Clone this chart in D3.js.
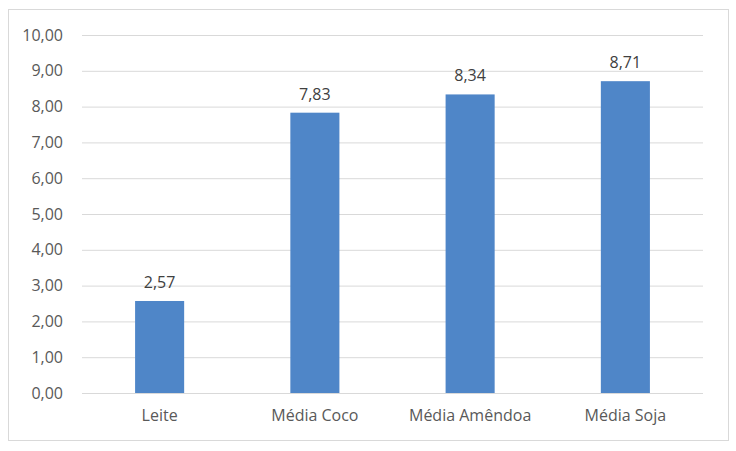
<!DOCTYPE html>
<html>
<head>
<meta charset="utf-8">
<script src="https://cdn.jsdelivr.net/npm/d3@7"></script>
<style>
  body { margin: 0; background: #fff; }
  svg text { font-family: "Open Sans", "Noto Sans", sans-serif; }
</style>
</head>
<body>
<div id="chart"></div>
<script>
// Data
const categories = ["Leite", "Média Coco", "Média Amêndoa", "Média Soja"];
const values = [2.57, 7.83, 8.34, 8.71];
const yTicks = [0, 1, 2, 3, 4, 5, 6, 7, 8, 9, 10];

const W = 736, H = 451;
const margin = { top: 35, right: 33, bottom: 58, left: 82 };
const width = W - margin.left - margin.right;
const height = H - margin.top - margin.bottom;

const svg = d3.select("#chart").append("svg")
    .attr("width", W)
    .attr("height", H);

// Outer chart border
svg.append("rect")
    .attr("x", 8.5).attr("y", 9.5)
    .attr("width", 720).attr("height", 431)
    .attr("fill", "#fff")
    .attr("stroke", "#d9d9d9");

const g = svg.append("g")
    .attr("transform", `translate(${margin.left},${margin.top})`);

const x = d3.scaleBand().domain(categories).range([0, width])
    .paddingInner(0.684).paddingOuter(0.342);
const y = d3.scaleLinear().domain([0, 10]).range([height, 0]);

const fmt = v => d3.format(".2f")(v).replace(".", ",");

// Y axis with grid lines
g.append("g")
    .call(d3.axisLeft(y).tickValues(yTicks).tickFormat(fmt).tickSize(-width).tickPadding(19))
    .call(a => a.select(".domain").remove())
    .call(a => a.selectAll(".tick line").attr("stroke", "#d9d9d9").attr("stroke-width", 1))
    .call(a => a.selectAll(".tick text").attr("fill", "#595959").attr("font-size", "16px"));

// X axis
g.append("g")
    .attr("transform", `translate(0,${height})`)
    .call(d3.axisBottom(x).tickSize(0).tickPadding(17))
    .call(a => a.select(".domain").remove())
    .call(a => a.selectAll(".tick text").attr("fill", "#595959").attr("font-size", "16px"));

// Bars
g.selectAll(".bar")
    .data(values)
    .join("rect")
    .attr("class", "bar")
    .attr("x", (d, i) => x(categories[i]))
    .attr("width", x.bandwidth())
    .attr("y", d => y(d))
    .attr("height", d => height - y(d))
    .attr("fill", "#4f86c8");

// Value labels
g.selectAll(".label")
    .data(values)
    .join("text")
    .attr("class", "label")
    .attr("x", (d, i) => x(categories[i]) + x.bandwidth() / 2)
    .attr("y", d => y(d) - 13)
    .attr("text-anchor", "middle")
    .attr("fill", "#404040")
    .attr("font-size", "16px")
    .text(fmt);
</script>
</body>
</html>
